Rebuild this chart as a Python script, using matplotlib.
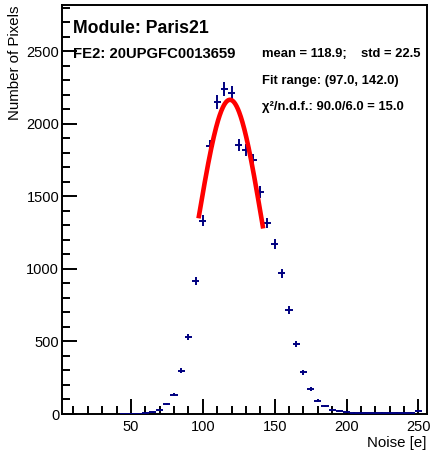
import numpy as np
import matplotlib
matplotlib.use("Agg")
import matplotlib.pyplot as plt
from matplotlib.ticker import MultipleLocator

plt.rcParams['font.family'] = ['Liberation Sans', 'DejaVu Sans']

# ---- data ----
noise_bins = [45, 50, 55, 60, 65, 70, 75, 80, 85, 90, 95,
              100, 105, 110, 115, 120, 125, 130, 135, 140, 145,
              150, 155, 160, 165, 170, 175, 180, 185, 190, 195,
              200, 205, 210, 215, 220, 225, 230, 235, 240, 245, 250]
pixel_counts = [1, 2, 3, 5, 12, 25, 69, 133, 298, 530, 916,
                1333, 1848, 2149, 2240, 2215, 1855, 1820, 1747, 1529, 1315,
                1171, 971, 718, 484, 289, 174, 92, 52, 30, 23,
                11, 8, 7, 5, 6, 8, 10, 8, 10, 8, 20]
bin_half_width = 2.5

# Gaussian fit parameters
fit_amp = 2165.0
fit_mean = 118.9
fit_std = 22.5
fit_range = (97.0, 142.0)

title = "Module: Paris21"
subtitle = "FE2: 20UPGFC0013659"
stats_line1 = "mean = 118.9;"
stats_line1b = "std = 22.5"
stats_line2 = "Fit range: (97.0, 142.0)"
stats_line3 = "χ²/n.d.f.: 90.0/6.0 = 15.0"

W, H = 431, 453
fig = plt.figure(figsize=(W / 100, H / 100), dpi=100)
ax = fig.add_axes([62 / W, 1 - 414 / H, (427 - 62) / W, (414 - 5) / H])

x = np.array(noise_bins, dtype=float)
y = np.array(pixel_counts, dtype=float)
ax.errorbar(x, y, yerr=np.sqrt(y), xerr=bin_half_width, fmt='none',
            ecolor='#000080', elinewidth=1.4, capsize=0, zorder=3)

xf = np.linspace(fit_range[0], fit_range[1], 200)
yf = fit_amp * np.exp(-0.5 * ((xf - fit_mean) / fit_std) ** 2)
ax.plot(xf, yf, color='#ff0000', lw=3.3, zorder=4, solid_capstyle='butt')

ax.set_xlim(2, 256)
ax.set_ylim(0, 2818)

ax.xaxis.set_major_locator(MultipleLocator(50))
ax.xaxis.set_minor_locator(MultipleLocator(10))
ax.yaxis.set_major_locator(MultipleLocator(500))
ax.yaxis.set_minor_locator(MultipleLocator(100))
ax.tick_params(axis='both', which='both', direction='in', top=False, right=False,
               labelsize=10.5, width=1.4, color='black')
ax.tick_params(axis='both', which='major', length=11)
ax.tick_params(axis='both', which='minor', length=5.5)
ax.tick_params(axis='x', pad=4)
ax.tick_params(axis='y', pad=2)
for s in ax.spines.values():
    s.set_linewidth(1.4)

ax.set_ylabel("Number of Pixels", fontsize=10.8, loc='top', labelpad=3)
ax.set_xlabel("Noise [e]", fontsize=10.8, loc='right', labelpad=2)

def px(xp, yp):
    return xp / W, 1 - yp / H

fig.text(*px(73, 33), title, fontsize=12.7, fontweight='bold', va='baseline')
fig.text(*px(73, 58), subtitle, fontsize=10.7, fontweight='bold', va='baseline')
fig.text(*px(262, 57), stats_line1, fontsize=9.4, fontweight='bold', va='baseline')
fig.text(*px(421, 57), stats_line1b, fontsize=9.4, fontweight='bold', va='baseline', ha='right')
fig.text(*px(262, 84), stats_line2, fontsize=9.4, fontweight='bold', va='baseline')
fig.text(*px(262, 110), stats_line3, fontsize=9.4, fontweight='bold', va='baseline')

fig.savefig("out.png", dpi=100)
